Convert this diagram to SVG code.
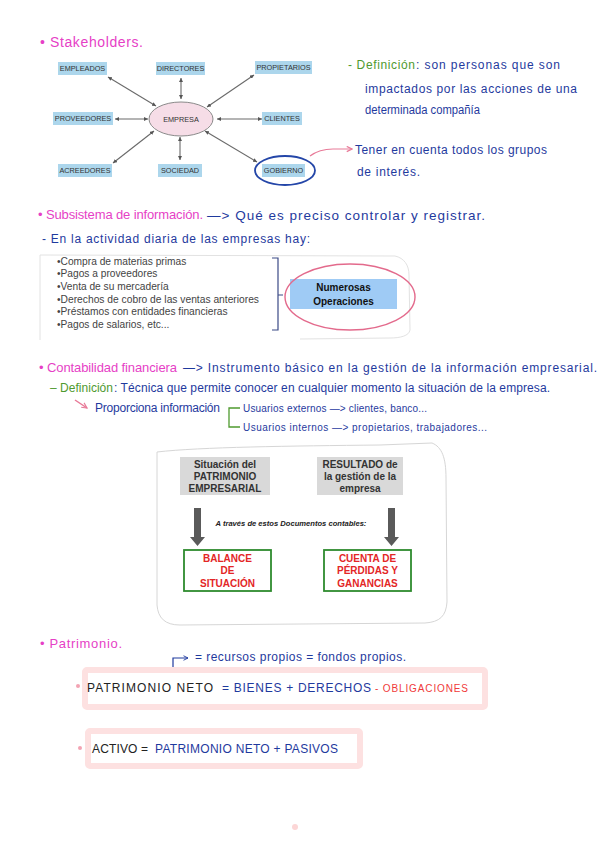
<svg xmlns="http://www.w3.org/2000/svg" width="600" height="848" viewBox="0 0 600 848">
<style>
.hw{font-family:"Liberation Sans",Arial,sans-serif;font-size:12px;fill:#1f3a9e}
.pk{font-family:"Liberation Sans",Arial,sans-serif;font-size:13px;fill:#e63fc6}
.gr{font-family:"Liberation Sans",Arial,sans-serif;font-size:12px;fill:#4f9a2f}
.sk{font-family:"Liberation Sans",Arial,sans-serif;font-size:7.3px;fill:#333;text-anchor:middle}
.sbox{fill:#acd6ec}
.li{font-family:"Liberation Sans",Arial,sans-serif;font-size:10.2px;fill:#444}
.bd{font-family:"Liberation Sans",Arial,sans-serif;font-size:10px;font-weight:bold;text-anchor:middle}
.cap{font-family:"Liberation Sans",Arial,sans-serif;font-size:12px}
.conn{stroke:#6a6a6a;stroke-width:1.1;fill:none;marker-start:url(#ah);marker-end:url(#ah)}
</style>
<defs>
<marker id="ah" viewBox="0 0 6 6" refX="6" refY="3" markerWidth="4" markerHeight="4" orient="auto-start-reverse" markerUnits="userSpaceOnUse">
<path d="M0,0 L6,3 L0,6 z" fill="#555"/>
</marker>
<marker id="pa" viewBox="0 0 8 8" refX="7" refY="4" markerWidth="7" markerHeight="7" orient="auto" markerUnits="userSpaceOnUse">
<path d="M1,1 L7,4 L1,7" fill="none" stroke="#e87a98" stroke-width="1.3"/>
</marker>
<marker id="ba" viewBox="0 0 8 8" refX="7" refY="4" markerWidth="6" markerHeight="6" orient="auto" markerUnits="userSpaceOnUse">
<path d="M1,1 L7,4 L1,7" fill="none" stroke="#1f3a9e" stroke-width="1.2"/>
</marker>
</defs>
<rect width="600" height="848" fill="#ffffff"/>

<!-- Stakeholders section -->
<text class="pk" style="font-size:14px" x="40" y="47" textLength="103" lengthAdjust="spacing">• Stakeholders.</text>

<g id="connectors">
<line class="conn" x1="108" y1="77" x2="156" y2="106"/>
<line class="conn" x1="181" y1="78" x2="181" y2="99"/>
<line class="conn" x1="254" y1="75" x2="207" y2="107"/>
<line class="conn" x1="115" y1="119" x2="148" y2="119"/>
<line class="conn" x1="217" y1="119" x2="262" y2="119"/>
<line class="conn" x1="113" y1="163" x2="154" y2="131"/>
<line class="conn" x1="180" y1="137" x2="180" y2="160"/>
<line class="conn" x1="205" y1="131" x2="257" y2="162"/>
<path d="M310,156 C318,150 325,149 333,149 L352,149" fill="none" stroke="#e87a98" stroke-width="1.2" marker-end="url(#pa)"/>
</g>

<g id="empresa">
<ellipse cx="181" cy="119" rx="32" ry="17" fill="#f6dde7" stroke="#8a8a8a" stroke-width="1"/>
<text class="sk" x="181" y="121.5">EMPRESA</text>
</g>
<g id="empleados"><rect class="sbox" x="58" y="62" width="49" height="13"/><text class="sk" x="82.5" y="71.2">EMPLEADOS</text></g>
<g id="directores"><rect class="sbox" x="156" y="62" width="49" height="13"/><text class="sk" x="180.5" y="71.2">DIRECTORES</text></g>
<g id="propietarios"><rect class="sbox" x="255" y="61" width="57" height="13"/><text class="sk" x="283.5" y="70.2">PROPIETARIOS</text></g>
<g id="proveedores"><rect class="sbox" x="53" y="112" width="60" height="13"/><text class="sk" x="83" y="121.2">PROVEEDORES</text></g>
<g id="clientes"><rect class="sbox" x="262" y="112" width="40" height="13"/><text class="sk" x="282" y="121.2">CLIENTES</text></g>
<g id="acreedores"><rect class="sbox" x="58" y="164" width="54" height="13"/><text class="sk" x="85" y="173.2">ACREEDORES</text></g>
<g id="sociedad"><rect class="sbox" x="158" y="164" width="44" height="13"/><text class="sk" x="180" y="173.2">SOCIEDAD</text></g>
<g id="gobierno"><rect class="sbox" x="262" y="164" width="43" height="13"/><text class="sk" x="283.5" y="173.2">GOBIERNO</text>
<ellipse cx="285" cy="170.5" rx="30" ry="14.5" fill="none" stroke="#2446a8" stroke-width="1.8"/></g>

<g id="definicion-stakeholders">
<text class="gr" x="348" y="69" textLength="67" lengthAdjust="spacing">- Definición</text>
<text class="hw" x="416" y="69" textLength="144" lengthAdjust="spacing">: son personas que son</text>
<text class="hw" x="365" y="93" textLength="212" lengthAdjust="spacing">impactados por las acciones de una</text>
<text class="hw" x="365" y="114" textLength="115" lengthAdjust="spacingAndGlyphs">determinada compañía</text>
<text class="hw" x="355" y="154" textLength="192" lengthAdjust="spacing">Tener en cuenta todos los grupos</text>
<text class="hw" x="357" y="176" textLength="63" lengthAdjust="spacing">de interés.</text>
</g>

<!-- Subsistema section -->
<text class="pk" x="38" y="219" textLength="165" lengthAdjust="spacing">• Subsistema de información.</text>
<text class="hw" style="font-size:13.5px" x="207" y="220" textLength="278" lengthAdjust="spacing">—&gt; Qué es preciso controlar y registrar.</text>
<text class="hw" x="42" y="243" textLength="268" lengthAdjust="spacing">- En la actividad diaria de las empresas hay:</text>

<g id="lista-operaciones">
<path d="M40,340 L40,255 L395,256 C404,258 409,265 409,275 L410,330 C409,336 400,338 390,338 L300,339" fill="none" stroke="#e2e2e2" stroke-width="1"/>
<text class="li" x="57" y="264.5">•Compra de materias primas</text>
<text class="li" x="57" y="277">•Pagos a proveedores</text>
<text class="li" x="57" y="289.5">•Venta de su mercadería</text>
<text class="li" x="57" y="302.5" textLength="202" lengthAdjust="spacingAndGlyphs">•Derechos de cobro de las ventas anteriores</text>
<text class="li" x="57" y="315">•Préstamos con entidades financieras</text>
<text class="li" x="57" y="327.5">•Pagos de salarios, etc...</text>
<path d="M272,258 L278,258 L278,330 L272,330 M278,295 L283,295" fill="none" stroke="#3b4a86" stroke-width="1.2"/>
</g>
<g id="numerosas">
<rect x="290" y="279" width="107" height="30" fill="#9fcbf5"/>
<text class="bd" x="343.5" y="291" fill="#111">Numerosas</text>
<text class="bd" x="343.5" y="305" fill="#111">Operaciones</text>
<ellipse cx="350" cy="297" rx="65" ry="33" fill="none" stroke="#e36a8c" stroke-width="1.4"/>
</g>

<!-- Contabilidad section -->
<text class="pk" x="39" y="372" textLength="138" lengthAdjust="spacing">• Contabilidad financiera</text>
<text class="hw" x="183" y="372" textLength="414" lengthAdjust="spacing">—&gt; Instrumento básico en la gestión de la información empresarial.</text>
<text class="gr" x="50" y="392" textLength="63" lengthAdjust="spacing">– Definición</text>
<text class="hw" x="114" y="392" textLength="436" lengthAdjust="spacing">: Técnica que permite conocer en cualquier momento la situación de la empresa.</text>
<path d="M75,400 L87,408" fill="none" stroke="#e87a98" stroke-width="1.5" marker-end="url(#pa)"/>
<text class="hw" x="95" y="412" textLength="125" lengthAdjust="spacing">Proporciona información</text>
<path d="M240,408 L229,408 L229,427 L240,427" fill="none" stroke="#4f9a2f" stroke-width="1.3"/>
<text class="hw" style="font-size:10px" x="243" y="411.5" textLength="184" lengthAdjust="spacing">Usuarios externos —&gt; clientes, banco...</text>
<text class="hw" style="font-size:10px" x="243" y="430.5" textLength="244" lengthAdjust="spacing">Usuarios internos —&gt; propietarios, trabajadores...</text>

<!-- Documentos contables -->
<g id="documentos">
<path d="M157,452 C200,447 290,446 380,445 L432,443 C442,447 446,458 446,478 L447,602 C446,616 440,622 425,623 L180,625 C165,625 158,618 157,605 Z" fill="none" stroke="#d6d6d6" stroke-width="1"/>
</g>
<g id="situacion-patrimonio">
<rect x="180" y="457" width="90" height="38" fill="#d9d9d9"/>
<text class="bd" x="225" y="467.5" fill="#333">Situación del</text>
<text class="bd" x="225" y="479.5" fill="#333">PATRIMONIO</text>
<text class="bd" x="225" y="491.5" fill="#333">EMPRESARIAL</text>
</g>
<g id="resultado-gestion">
<rect x="317" y="457" width="86" height="38" fill="#d9d9d9"/>
<text class="bd" x="360" y="467.5" fill="#333">RESULTADO de</text>
<text class="bd" x="360" y="479.5" fill="#333">la gestión de la</text>
<text class="bd" x="360" y="491.5" fill="#333">empresa</text>
</g>
<g id="doc-arrows">
<polygon points="194,508 201,508 201,537 205,537 197.5,546 190,537 194,537" fill="#5a5a5a"/>
<polygon points="388,508 395,508 395,537 399,537 391.5,546 384,537 388,537" fill="#5a5a5a"/>
</g>
<text x="291" y="526" font-family="Liberation Sans, Arial, sans-serif" font-size="7.6" font-weight="bold" font-style="italic" fill="#222" text-anchor="middle">A través de estos Documentos contables:</text>
<g id="balance">
<rect x="184" y="550" width="87" height="41" fill="#fff" stroke="#2e8b2e" stroke-width="1.8"/>
<text class="bd" x="227.5" y="561.5" fill="#e32626">BALANCE</text>
<text class="bd" x="227.5" y="574" fill="#e32626">DE</text>
<text class="bd" x="227.5" y="586.5" fill="#e32626">SITUACIÓN</text>
</g>
<g id="cuenta-pyg">
<rect x="324" y="550" width="87" height="41" fill="#fff" stroke="#2e8b2e" stroke-width="1.8"/>
<text class="bd" x="367.5" y="561.5" fill="#e32626">CUENTA DE</text>
<text class="bd" x="367.5" y="574" fill="#e32626">PÉRDIDAS Y</text>
<text class="bd" x="367.5" y="586.5" fill="#e32626">GANANCIAS</text>
</g>

<!-- Patrimonio section -->
<text class="pk" x="40" y="648" textLength="82" lengthAdjust="spacing">• Patrimonio.</text>
<path d="M173,675 L173,658 L188,658" fill="none" stroke="#1f3a9e" stroke-width="1.2" marker-end="url(#ba)"/>
<text class="hw" x="195" y="661" textLength="211" lengthAdjust="spacing">= recursos propios = fondos propios.</text>

<g id="patrimonio-neto">
<rect x="85" y="670" width="400" height="37" rx="2" fill="#fff" stroke="#fde1e1" stroke-width="6"/>
<circle cx="78" cy="686" r="2" fill="#f3a3b3"/>
<text class="cap" x="87" y="692" fill="#222" textLength="126" lengthAdjust="spacing">PATRIMONIO NETO</text>
<text class="cap" x="222" y="692" fill="#1f3a9e" textLength="149" lengthAdjust="spacing">= BIENES + DERECHOS</text>
<text class="cap" x="375" y="692" fill="#f03a3a" style="font-size:10px" textLength="93" lengthAdjust="spacing">- OBLIGACIONES</text>
</g>
<g id="activo">
<rect x="88" y="731" width="272" height="35" rx="2" fill="#fff" stroke="#fde1e1" stroke-width="6"/>
<circle cx="80" cy="748" r="2" fill="#f3a3b3"/>
<text class="cap" x="92" y="753" fill="#222" textLength="56" lengthAdjust="spacing">ACTIVO =</text>
<text class="cap" x="155" y="753" fill="#1f3a9e" textLength="183" lengthAdjust="spacing">PATRIMONIO NETO + PASIVOS</text>
</g>
<circle cx="295" cy="827" r="3" fill="#fcd6d6"/>
</svg>
